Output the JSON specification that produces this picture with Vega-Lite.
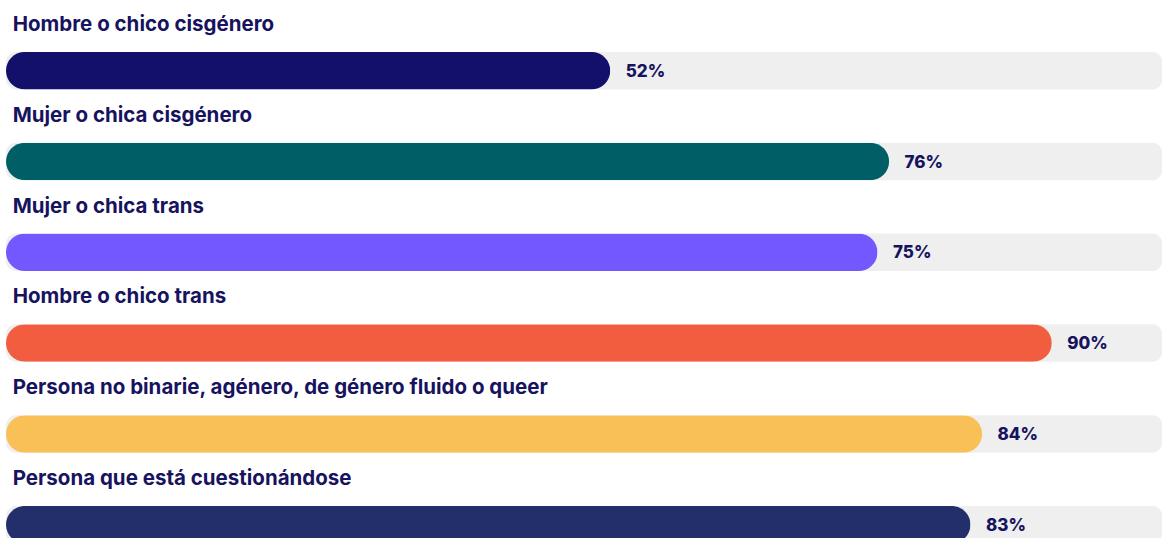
{
  "$schema": "https://vega.github.io/schema/vega-lite/v6.json",
  "width": 1162,
  "height": 538,
  "padding": 0,
  "autosize": {"type": "none"},
  "background": "white",
  "config": {"view": {"stroke": null}},
  "data": {
    "values": [
      {"cat": "Hombre o chico cisgénero", "pct": 52, "label": "52%"},
      {"cat": "Mujer o chica cisgénero", "pct": 76, "label": "76%"},
      {"cat": "Mujer o chica trans", "pct": 75, "label": "75%"},
      {"cat": "Hombre o chico trans", "pct": 90, "label": "90%"},
      {"cat": "Persona no binarie, agénero, de género fluido o queer", "pct": 84, "label": "84%"},
      {"cat": "Persona que está cuestionándose", "pct": 83, "label": "83%"}
    ]
  },
  "encoding": {
    "y": {
      "field": "cat",
      "type": "nominal",
      "sort": null,
      "scale": {"type": "point", "range": [70.7, 524.7], "padding": 0},
      "axis": null
    }
  },
  "layer": [
    {
      "mark": {"type": "bar", "height": 37.5, "color": "#efefef", "cornerRadius": 10},
      "encoding": {
        "x": {"datum": 99.5, "type": "quantitative", "scale": {"domain": [0, 100], "range": [6, 1168]}, "axis": null}
      }
    },
    {
      "mark": {"type": "bar", "height": 37.5, "cornerRadius": 18.75},
      "encoding": {
        "x": {"field": "pct", "type": "quantitative"},
        "color": {
          "field": "cat",
          "type": "nominal",
          "scale": {
            "domain": ["Hombre o chico cisgénero", "Mujer o chica cisgénero", "Mujer o chica trans", "Hombre o chico trans", "Persona no binarie, agénero, de género fluido o queer", "Persona que está cuestionándose"],
            "range": ["#12106a", "#005f66", "#7357ff", "#f25c3f", "#f8c057", "#232f6a"]
          },
          "legend": null
        }
      }
    },
    {
      "mark": {"type": "text", "align": "left", "baseline": "alphabetic", "dx": 6.7, "dy": -39.8, "font": "Inter", "fontSize": 20.5, "fontWeight": 700, "color": "#17135f"},
      "encoding": {
        "x": {"datum": 0, "type": "quantitative"},
        "text": {"field": "cat"}
      }
    },
    {
      "mark": {"type": "text", "align": "left", "baseline": "alphabetic", "dx": 15.5, "dy": 6, "font": "Inter", "fontSize": 17, "fontWeight": 800, "color": "#17135f"},
      "encoding": {
        "x": {"field": "pct", "type": "quantitative"},
        "text": {"field": "label"}
      }
    }
  ]
}
